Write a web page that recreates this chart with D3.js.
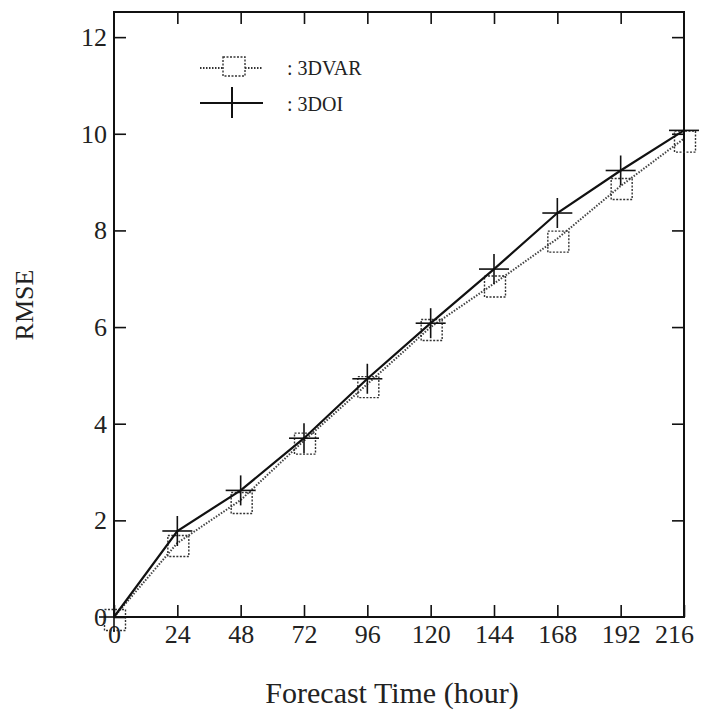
<!doctype html>
<html lang="en">
<head>
<meta charset="UTF-8">
<title>RMSE vs Forecast Time</title>
<style>
  body { margin: 0; background: #fff; }
  svg text { font-family: "Liberation Serif", "DejaVu Serif", serif; fill: #222; }
</style>
<script src="https://cdn.jsdelivr.net/npm/d3@7"></script>
</head>
<body>
<svg id="chart" width="702" height="710"></svg>
<script>
// data
var hours = [0, 24, 48, 72, 96, 120, 144, 168, 192, 216];
var var3d = [0, 1.53, 2.42, 3.65, 4.82, 6.0, 6.9, 7.83, 8.92, 9.9];
var oi3d  = [0, 1.78, 2.62, 3.7, 4.93, 6.08, 7.2, 8.36, 9.24, 10.07];
var xTicks = [0, 24, 48, 72, 96, 120, 144, 168, 192, 216];
var yTicks = [0, 2, 4, 6, 8, 10, 12];

var svg = d3.select('#chart'),
    margin = {top: 12, right: 18, bottom: 93, left: 114},
    width = +svg.attr('width') - margin.left - margin.right,
    height = +svg.attr('height') - margin.top - margin.bottom,
    g = svg.append('g').attr('transform', 'translate(' + margin.left + ',' + margin.top + ')');

var x = d3.scaleLinear().domain([0, 216]).range([0, width]);
var y = d3.scaleLinear().domain([0, 12.52]).range([height, 0]);

// frame
g.append('rect')
  .attr('width', width).attr('height', height)
  .attr('fill', 'none').attr('stroke', '#111').attr('stroke-width', 2);

// axes, ticks inward
var tl = 12;
g.append('g')
  .attr('transform', 'translate(0,' + height + ')')
  .call(d3.axisBottom(x).tickValues(xTicks).tickSize(-tl).tickPadding(8).tickFormat(d3.format('d')))
  .call(function(a) { a.select('.domain').remove(); })
  .call(function(a) { a.selectAll('line').attr('stroke', '#111').attr('stroke-width', 1.6); })
  .selectAll('text').attr('font-size', 26).attr('fill', '#222')
  .attr('dx', function(d) { return d === 216 ? -10 : 0; });

g.append('g')
  .call(d3.axisTop(x).tickValues(xTicks.slice(1, -1)).tickSize(-tl).tickFormat(''))
  .call(function(a) { a.select('.domain').remove(); })
  .selectAll('line').attr('stroke', '#111').attr('stroke-width', 1.6);

g.append('g')
  .call(d3.axisLeft(y).tickValues(yTicks).tickSize(-tl).tickPadding(7).tickFormat(d3.format('d')))
  .call(function(a) { a.select('.domain').remove(); })
  .call(function(a) { a.selectAll('line').attr('stroke', '#111').attr('stroke-width', 1.6); })
  .selectAll('text').attr('font-size', 26).attr('fill', '#222');

g.append('g')
  .attr('transform', 'translate(' + width + ',0)')
  .call(d3.axisRight(y).tickValues(yTicks.slice(1)).tickSize(-tl).tickFormat(''))
  .call(function(a) { a.select('.domain').remove(); })
  .selectAll('line').attr('stroke', '#111').attr('stroke-width', 1.6);

// axis titles
svg.append('text')
  .attr('x', 392).attr('y', 703)
  .attr('text-anchor', 'middle').attr('font-size', 30)
  .text('Forecast Time (hour)');

svg.append('text')
  .attr('transform', 'translate(33,305) rotate(-90)')
  .attr('text-anchor', 'middle').attr('font-size', 26)
  .text('RMSE');

var line = d3.line()
  .x(function(d) { return x(d[0]); })
  .y(function(d) { return y(d[1]); });

var varPts = hours.map(function(h, i) { return [h, var3d[i]]; });
var oiPts = hours.map(function(h, i) { return [h, oi3d[i]]; });

// 3DVAR dotted line + dotted squares
g.append('path').datum(varPts)
  .attr('fill', 'none').attr('stroke', '#444').attr('stroke-width', 2)
  .attr('stroke-dasharray', '1.5,1.5').attr('d', line);

var sq = 21;
g.selectAll('.sq').data(varPts).enter().append('rect')
  .attr('x', function(d) { return x(d[0]) - sq / 2 + 1; })
  .attr('y', function(d) { return y(d[1]) - sq / 2 + 3; })
  .attr('width', sq).attr('height', sq)
  .attr('fill', 'none').attr('stroke', '#333').attr('stroke-width', 1.4)
  .attr('stroke-dasharray', '2,1.5');

// 3DOI solid line + plus markers
g.append('path').datum(oiPts)
  .attr('fill', 'none').attr('stroke', '#111').attr('stroke-width', 2.2).attr('d', line);

var ph = 15;
var plus = g.selectAll('.pl').data(oiPts).enter().append('g')
  .attr('transform', function(d) { return 'translate(' + x(d[0]) + ',' + y(d[1]) + ')'; });
plus.append('line').attr('x1', -ph).attr('x2', ph).attr('stroke', '#111').attr('stroke-width', 1.6);
plus.append('line').attr('y1', -ph).attr('y2', ph).attr('stroke', '#111').attr('stroke-width', 1.6);

// legend
var lg = svg.append('g').attr('transform', 'translate(200,68)');
lg.append('line').attr('x1', 0).attr('x2', 63).attr('y1', 0).attr('y2', 0)
  .attr('stroke', '#333').attr('stroke-width', 1.8).attr('stroke-dasharray', '1.5,1.5');
lg.append('rect').attr('x', 23).attr('y', -11).attr('width', 22).attr('height', 19)
  .attr('fill', '#fff').attr('stroke', '#333').attr('stroke-width', 1.4).attr('stroke-dasharray', '2,1.5');
lg.append('text').attr('x', 87).attr('y', 7).attr('font-size', 20).text(': 3DVAR');

lg.append('line').attr('x1', 0).attr('x2', 63).attr('y1', 35).attr('y2', 35)
  .attr('stroke', '#111').attr('stroke-width', 1.8);
lg.append('line').attr('x1', 32).attr('x2', 32).attr('y1', 19).attr('y2', 50)
  .attr('stroke', '#111').attr('stroke-width', 2);
lg.append('text').attr('x', 87).attr('y', 43).attr('font-size', 20).text(': 3DOI');
</script>
</body>
</html>
